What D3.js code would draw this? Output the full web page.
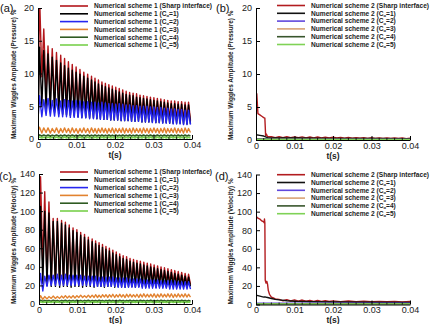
<!DOCTYPE html>
<html><head><meta charset="utf-8">
<script src="https://cdn.jsdelivr.net/npm/d3@7"></script>
<style>
html,body{margin:0;padding:0;background:#fff;}
svg{display:block;font-family:"Liberation Sans",Arial,sans-serif;}
</style></head>
<body><svg id="c" width="430" height="324"></svg>
<script>
// ---------- DATA ----------
const xTicks = [0, 0.01, 0.02, 0.03, 0.04];
const yTicksP = [0, 5, 10, 15, 20];
const yTicksV = [0, 20, 40, 60, 80, 100, 120, 140];
const legendS1 = ["Numerical scheme 1 (Sharp interface)", "Numerical scheme 1 (C|=1)", "Numerical scheme 1 (C|=2)", "Numerical scheme 1 (C|=3)", "Numerical scheme 1 (C|=4)", "Numerical scheme 1 (C|=5)"];
const legendS2 = ["Numerical scheme 2 (Sharp interface)", "Numerical scheme 2 (C|=1)", "Numerical scheme 2 (C|=2)", "Numerical scheme 2 (C|=3)", "Numerical scheme 2 (C|=4)", "Numerical scheme 2 (C|=5)"];
const colorsS1 = ["#b3161b", "#000000", "#2626f0", "#e2822f", "#2f5b22", "#78d04c"];
const colorsS2 = ["#b21c1f", "#111111", "#6048dc", "#d9a274", "#38552c", "#7fd256"];

// scheme 1 oscillation: times of the peaks and troughs of each cycle
const tPeak = [0.0004,0.0015,0.0026,0.0037,0.0048,0.0059,0.0069,0.0079,0.0089,0.0099,0.0109,0.0119,0.0129,0.0139,0.0148,0.0157,0.0166,0.0175,0.0184,0.0193,0.0202,0.0211,0.0220,0.0229,0.0238,0.0247,0.0256,0.0265,0.0274,0.0283,0.0292,0.0301,0.0310,0.0319,0.0328,0.0337,0.0346,0.0355,0.0364,0.0373,0.0382,0.0391];
const tTrough = [0.0010,0.0021,0.0032,0.0043,0.0054,0.0064,0.0074,0.0084,0.0094,0.0104,0.0114,0.0124,0.0134,0.0144,0.0153,0.0162,0.0171,0.0180,0.0189,0.0198,0.0207,0.0216,0.0225,0.0234,0.0243,0.0252,0.0261,0.0270,0.0279,0.0288,0.0297,0.0306,0.0315,0.0324,0.0333,0.0342,0.0351,0.0360,0.0369,0.0378,0.0387,0.0396];

// (a) scheme 1, pressure
const pSharpStart = 2;
const pSharpPeak = [22,16.8,14.2,13.8,13.2,12.8,12.3,11.8,11.4,11.0,10.6,10.2,9.9,9.6,9.3,9.0,8.7,8.5,8.3,8.1,7.9,7.7,7.5,7.3,7.1,7.0,6.9,6.7,6.6,6.5,6.4,6.3,6.2,6.1,6.0,5.9,5.8,5.8,5.7,5.7,5.6,5.6];
const pSharpTrough = [9.5,7.0,6.0,5.5,5.2,5.0,4.8,4.6,4.5,4.4,4.3,4.2,4.1,4.0,3.9,3.8,3.8,3.7,3.6,3.6,3.5,3.5,3.4,3.4,3.3,3.3,3.2,3.2,3.2,3.1,3.1,3.1,3.0,3.0,3.0,3.0,2.9,2.9,2.9,2.9,2.8,2.8];
const pC1Start = 1;
const pC1Peak = [14,13.5,13.0,12.5,12.0,11.6,11.2,10.8,10.5,10.2,9.9,9.6,9.3,9.0,8.7,8.4,8.2,8.0,7.8,7.6,7.4,7.2,7.0,6.8,6.7,6.6,6.4,6.3,6.2,6.1,6.0,5.9,5.8,5.7,5.6,5.5,5.4,5.4,5.3,5.3,5.2,5.2];
const pC1Trough = [5.0,4.6,4.3,4.1,3.9,3.8,3.7,3.6,3.5,3.4,3.3,3.3,3.2,3.2,3.1,3.1,3.0,3.0,2.9,2.9,2.9,2.8,2.8,2.8,2.7,2.7,2.7,2.6,2.6,2.6,2.6,2.5,2.5,2.5,2.5,2.4,2.4,2.4,2.4,2.3,2.3,2.3];
const pC2Start = 3;
const pC2Peak = [6.6,6.0,6.2,5.9,6.1,5.8,6.0,5.9,5.8,5.9,5.8,5.7,5.7,5.6,5.6,5.5,5.6,5.5,5.4,5.4,5.3,5.4,5.3,5.2,5.2,5.1,5.1,5.0,5.0,5.0,4.9,4.9,4.8,4.8,4.7,4.7,4.6,4.6,4.5,4.5,4.4,4.4];
const pC2Trough = [3.4,3.6,3.5,3.5,3.4,3.4,3.4,3.3,3.3,3.3,3.2,3.2,3.1,3.1,3.1,3.0,3.0,3.0,2.9,2.9,2.9,2.8,2.8,2.8,2.7,2.7,2.7,2.6,2.6,2.6,2.5,2.5,2.5,2.4,2.4,2.4,2.3,2.3,2.3,2.2,2.2,2.2];
const pC3Start = 1.2;
const pC3Peak = [1.8,1.7,1.7,1.6,1.7,1.6,1.7,1.6,1.7,1.6,1.6,1.7,1.6,1.7,1.6,1.6,1.7,1.6,1.6,1.7,1.6,1.6,1.7,1.6,1.6,1.7,1.6,1.6,1.7,1.6,1.6,1.7,1.6,1.6,1.7,1.6,1.6,1.7,1.6,1.6,1.7,1.6];
const pC3Trough = [0.9,1.0,0.9,1.0,0.9,1.0,1.0,0.9,1.0,0.9,1.0,1.0,0.9,1.0,0.9,1.0,1.0,0.9,1.0,0.9,1.0,1.0,0.9,1.0,0.9,1.0,1.0,0.9,1.0,0.9,1.0,1.0,0.9,1.0,0.9,1.0,1.0,0.9,1.0,0.9,1.0,1.0];
const pC4Start = 0.5;
const pC4Peak = [0.62,0.6,0.6,0.58,0.6,0.58,0.6,0.58,0.6,0.58,0.6,0.58,0.6,0.58,0.6,0.58,0.6,0.58,0.6,0.58,0.6,0.58,0.6,0.58,0.6,0.58,0.6,0.58,0.6,0.58,0.6,0.58,0.6,0.58,0.6,0.58,0.6,0.58,0.6,0.58,0.6,0.58];
const pC4Trough = [0.45,0.45,0.44,0.45,0.44,0.45,0.44,0.45,0.44,0.45,0.44,0.45,0.44,0.45,0.44,0.45,0.44,0.45,0.44,0.45,0.44,0.45,0.44,0.45,0.44,0.45,0.44,0.45,0.44,0.45,0.44,0.45,0.44,0.45,0.44,0.45,0.44,0.45,0.44,0.45,0.44,0.45];
const pC5Start = 0.2;
const pC5Peak = [0.3,0.28,0.3,0.28,0.3,0.28,0.3,0.28,0.3,0.28,0.3,0.28,0.3,0.28,0.3,0.28,0.3,0.28,0.3,0.28,0.3,0.28,0.3,0.28,0.3,0.28,0.3,0.28,0.3,0.28,0.3,0.28,0.3,0.28,0.3,0.28,0.3,0.28,0.3,0.28,0.3,0.28];
const pC5Trough = [0.15,0.16,0.15,0.16,0.15,0.16,0.15,0.16,0.15,0.16,0.15,0.16,0.15,0.16,0.15,0.16,0.15,0.16,0.15,0.16,0.15,0.16,0.15,0.16,0.15,0.16,0.15,0.16,0.15,0.16,0.15,0.16,0.15,0.16,0.15,0.16,0.15,0.16,0.15,0.16,0.15,0.16];

// (c) scheme 1, velocity
const vSharpStart = 20;
const vSharpPeak = [137,121,110,92,92,90,88,85,82,80,77,75,72,70,68,66,64,62,60,58,56,54,52,51,49,48,47,46,45,44,43,42,41,40,39,38,37,36,35,34,33,32];
const vSharpTrough = [40,24,22,22,23,22,22,23,22,22,22,23,22,22,22,22,23,22,22,22,22,22,22,22,22,22,22,22,22,22,22,22,22,22,22,22,22,22,22,21,21,21];
const vC1Start = 15;
const vC1Peak = [105,100,98,89,89,87,85,82,79,77,74,72,69,67,65,63,61,59,57,55,53,51,49,48,46,45,44,43,42,41,40,39,38,37,36,35,34,33,32,31,30,29];
const vC1Trough = [22,20,19,19,18,19,19,18,19,19,18,19,19,18,19,19,18,19,19,18,19,19,18,19,19,18,19,19,18,19,19,18,19,19,18,19,19,18,19,19,18,19];
const vC2Start = 14;
const vC2Peak = [33,30,31,31,32,31,32,31,31,31,31,30,30,30,30,29,29,29,29,29,28,28,28,28,27,27,27,27,26,26,26,26,26,25,25,25,25,25,24,24,24,24];
const vC2Trough = [14,19,20,20,20,20,20,20,20,20,20,20,20,19,19,19,19,19,19,19,18,18,18,18,18,18,18,17,17,17,17,17,17,17,17,16,16,16,16,16,16,16];
const vC3Start = 4;
const vC3Peak = [9,8,8,8.5,8,8.5,9,8.5,9,9,9.5,9,9.5,9.5,10,9.5,10,10,10,10.5,10,10.5,10,10.5,10.5,10,10.5,10.5,11,10.5,10.5,11,10.5,11,10.5,11,11,10.5,11,10.5,11,10.5];
const vC3Trough = [5,5.5,6,6,6,6.5,6.5,6.5,6.5,7,7,7,7,7,7,7,7.5,7,7.5,7,7.5,7.5,7,7.5,7.5,7.5,7,7.5,7.5,7.5,7.5,7,7.5,7.5,7.5,7.5,7,7.5,7.5,7.5,7.5,7.5];
const vC4Start = 3;
const vC4Peak = [4,3.8,3.8,4,3.8,3.8,4,3.8,3.8,4,3.8,3.8,4,3.8,3.8,4,3.8,3.8,4,3.8,3.8,4,3.8,3.8,4,3.8,3.8,4,3.8,3.8,4,3.8,3.8,4,3.8,3.8,4,3.8,3.8,4,3.8,3.8];
const vC4Trough = [3,3.1,3,3.1,3,3.1,3,3.1,3,3.1,3,3.1,3,3.1,3,3.1,3,3.1,3,3.1,3,3.1,3,3.1,3,3.1,3,3.1,3,3.1,3,3.1,3,3.1,3,3.1,3,3.1,3,3.1,3,3.1];
const vC5Start = 1.5;
const vC5Peak = [2.4,2.3,2.3,2.4,2.3,2.3,2.4,2.3,2.3,2.4,2.3,2.3,2.4,2.3,2.3,2.4,2.3,2.3,2.4,2.3,2.3,2.4,2.3,2.3,2.4,2.3,2.3,2.4,2.3,2.3,2.4,2.3,2.3,2.4,2.3,2.3,2.4,2.3,2.3,2.4,2.3,2.3];
const vC5Trough = [1.6,1.7,1.6,1.7,1.6,1.7,1.6,1.7,1.6,1.7,1.6,1.7,1.6,1.7,1.6,1.7,1.6,1.7,1.6,1.7,1.6,1.7,1.6,1.7,1.6,1.7,1.6,1.7,1.6,1.7,1.6,1.7,1.6,1.7,1.6,1.7,1.6,1.7,1.6,1.7,1.6,1.7];

// (b) scheme 2, pressure
const bSharpT = [0,0.0001,0.0002,0.0003,0.0005,0.0010,0.0015,0.0020,0.0023,0.0025,0.0027,0.0029,0.0031,0.0040,0.0050,0.0060,0.0070,0.0080,0.0090,0.0100,0.0110,0.0120,0.0130,0.0140,0.0150,0.0160,0.0170,0.0180,0.0190,0.0200,0.0210,0.0220,0.0230,0.0240,0.0250,0.0260,0.0270,0.0280,0.0290,0.0300,0.0310,0.0320,0.0330,0.0340,0.0350,0.0360,0.0370,0.0380,0.0390,0.0400];
const bSharpV = [0.6,5.5,7.0,6.0,4.0,3.8,3.6,3.4,3.3,0.7,0.9,0.6,0.5,0.5,0.35,0.5,0.35,0.5,0.35,0.48,0.34,0.47,0.33,0.46,0.33,0.45,0.32,0.44,0.32,0.43,0.3,0.4,0.28,0.38,0.27,0.36,0.26,0.35,0.25,0.34,0.24,0.33,0.23,0.32,0.22,0.3,0.22,0.3,0.21,0.28];
const bC1T = [0,0.001,0.002,0.003,0.005,0.010,0.020,0.030,0.040];
const bC1V = [0.8,0.7,0.6,0.35,0.3,0.3,0.25,0.22,0.2];
const bC2T = [0,0.04];
const bC2V = [0.15,0.1];
const bC3T = [0,0.04];
const bC3V = [0.1,0.08];
const bC4T = [0,0.04];
const bC4V = [0.08,0.06];
const bC5T = [0,0.04];
const bC5V = [0.05,0.04];

// (d) scheme 2, velocity
const dSharpT = [0,0.0005,0.0010,0.0015,0.0020,0.0021,0.0022,0.0023,0.0024,0.0026,0.0028,0.0030,0.0032,0.0035,0.0040,0.0045,0.0050,0.0060,0.0070,0.0080,0.0090,0.0100,0.0110,0.0120,0.0130,0.0140,0.0150,0.0160,0.0170,0.0180,0.0190,0.0200,0.0220,0.0240,0.0260,0.0280,0.0300,0.0320,0.0340,0.0360,0.0380,0.0400];
const dSharpV = [95,93,92,90,89,88,92,88,26,23,25,22,15,11,8,7,6,5.5,4,5.2,3.8,5,3.6,4.8,3.5,4.5,3.4,4.3,3.3,4.1,3.2,3.9,3.1,3.7,3.0,3.5,3.0,3.4,2.9,3.3,2.8,3.2];
const dC1T = [0,0.0005,0.001,0.0015,0.002,0.0025,0.003,0.004,0.005,0.006,0.008,0.010,0.015,0.020,0.030,0.040];
const dC1V = [10,9.5,9,8.5,8,8,7.5,6.5,5.5,5,4,3.5,3,2.7,2.4,2.2];
const dC2T = [0,0.04];
const dC2V = [1.5,1.5];
const dC3T = [0,0.04];
const dC3V = [0.8,0.8];
const dC4T = [0,0.04];
const dC4V = [0.5,0.5];
const dC5T = [0,0.04];
const dC5V = [0.3,0.3];

// ---------- helpers ----------
function wave(start, peaks, troughs){
  const pts = [[0, start]];
  peaks.forEach((p,i)=>{ pts.push([tPeak[i], p]); pts.push([tTrough[i], troughs[i]]); });
  return pts;
}
function zip(ts, vs){ return ts.map((t,i)=>[t, vs[i]]); }

const svg = d3.select("#c");
svg.append("rect").attr("width",430).attr("height",324).attr("fill","#fff");
const defs = svg.append("defs");

function panel(o){
  const g = svg.append("g");
  const x = d3.scaleLinear().domain([0,0.04]).range([o.x0, o.x1]);
  const y = d3.scaleLinear().domain([0,o.ymax]).range([o.y0, o.y1]);
  const cid = "clip"+o.id;
  defs.append("clipPath").attr("id",cid).append("rect")
    .attr("x",o.x0).attr("y",o.y1).attr("width",o.x1-o.x0+2).attr("height",o.y0-o.y1);
  const line = d3.line().x(d=>x(d[0])).y(d=>y(d[1]));
  const lg = g.append("g").attr("clip-path","url(#"+cid+")");
  o.series.forEach((s,i)=>{
    lg.append("path").attr("d",line(s)).attr("fill","none")
      .attr("stroke",o.colors[i]).attr("stroke-width", i>=4?1.7:1.4).attr("stroke-linejoin","round");
  });
  // axes
  const xa = d3.axisBottom(x).tickValues(xTicks).tickSizeInner(-4).tickSizeOuter(0).tickPadding(2.5)
    .tickFormat(d=> d===0 ? "0" : d3.format(".2f")(d));
  const gx = g.append("g").attr("transform","translate(0,"+o.y0+")").call(xa);
  const ya = d3.axisLeft(y).tickValues(o.yTicks).tickSizeInner(-4).tickSizeOuter(0).tickPadding(4);
  const gy = g.append("g").attr("transform","translate("+o.x0+",0)").call(ya);
  // minor x ticks
  const minors = d3.range(0.002, 0.04, 0.002).filter(v=>Math.abs(v/0.01-Math.round(v/0.01))>1e-6);
  g.append("g").selectAll("line").data(minors).join("line")
    .attr("x1",d=>x(d)).attr("x2",d=>x(d)).attr("y1",o.y0).attr("y2",o.y0-2)
    .attr("stroke","#000").attr("stroke-width",0.8);
  [gx,gy].forEach(a=>{
    a.selectAll("text").attr("font-size",9).attr("fill","#222").attr("font-family","'Liberation Sans',Arial,sans-serif");
    a.select(".domain").attr("stroke","#000").attr("stroke-width",1);
    a.selectAll(".tick line").attr("stroke","#000");
  });
  // x title
  g.append("text").attr("x",(o.x0+o.x1)/2).attr("y",o.y0+18.5).attr("text-anchor","middle")
    .attr("font-size",8.5).attr("font-weight","bold").attr("fill","#222").text("t(s)");
  // y title
  g.append("text").attr("transform","translate("+o.tx+","+o.y0+") rotate(-90)")
    .attr("font-size",6.4).attr("font-weight","bold").attr("fill","#222").text(o.ytitle);
  // panel label
  g.append("text").attr("x",o.lx).attr("y",o.ly).attr("font-size",11).attr("fill","#111").text(o.label);
  // legend
  o.legend.forEach((txt,i)=>{
    const yy = o.legY + i*7.8;
    g.append("line").attr("x1",o.legX).attr("x2",o.legX+28).attr("y1",yy).attr("y2",yy)
      .attr("stroke",o.colors[i]).attr("stroke-width",1.6);
    const t = g.append("text").attr("x",o.legX+34).attr("y",yy+2.3)
      .attr("font-size",6.6).attr("font-weight","bold").attr("fill","#222");
    const parts = txt.split("|");
    t.append("tspan").text(parts[0]);
    if(parts.length>1){
      t.append("tspan").attr("font-size",4).attr("dy",1.2).text("\u03b1");
      t.append("tspan").attr("dy",-1.2).text(parts[1]);
    }
  });
}

panel({id:"a", x0:38, x1:192, y0:139, y1:8, ymax:20, yTicks:yTicksP,
  series:[wave(pSharpStart,pSharpPeak,pSharpTrough), wave(pC1Start,pC1Peak,pC1Trough), wave(pC2Start,pC2Peak,pC2Trough),
          wave(pC3Start,pC3Peak,pC3Trough), wave(pC4Start,pC4Peak,pC4Trough), wave(pC5Start,pC5Peak,pC5Trough)],
  colors:colorsS1, legend:legendS1, legX:60, legY:6,
  ytitle:"Maximum Wiggles Amplitude (Pressure) %", tx:16, label:"(a)", lx:0, ly:12});
panel({id:"b", x0:256, x1:410, y0:140, y1:8, ymax:20, yTicks:yTicksP,
  series:[zip(bSharpT,bSharpV), zip(bC1T,bC1V), zip(bC2T,bC2V), zip(bC3T,bC3V), zip(bC4T,bC4V), zip(bC5T,bC5V)],
  colors:colorsS2, legend:legendS2, legX:277, legY:5.5,
  ytitle:"Maximum Wiggles Amplitude (Pressure) %", tx:233, label:"(b)", lx:216, ly:12});
panel({id:"c", x0:39, x1:192, y0:304, y1:174, ymax:140, yTicks:yTicksV,
  series:[wave(vSharpStart,vSharpPeak,vSharpTrough), wave(vC1Start,vC1Peak,vC1Trough), wave(vC2Start,vC2Peak,vC2Trough),
          wave(vC3Start,vC3Peak,vC3Trough), wave(vC4Start,vC4Peak,vC4Trough), wave(vC5Start,vC5Peak,vC5Trough)],
  colors:colorsS1, legend:legendS1, legX:60, legY:172,
  ytitle:"Maximum Wiggles Amplitude (Velocity) %", tx:16, label:"(c)", lx:-1, ly:180});
panel({id:"d", x0:256, x1:410, y0:304.5, y1:174.5, ymax:140, yTicks:yTicksV,
  series:[zip(dSharpT,dSharpV), zip(dC1T,dC1V), zip(dC2T,dC2V), zip(dC3T,dC3V), zip(dC4T,dC4V), zip(dC5T,dC5V)],
  colors:colorsS2, legend:legendS2, legX:277, legY:174.7,
  ytitle:"Maximum Wiggles Amplitude (Velocity) %", tx:233, label:"(d)", lx:215, ly:180});
</script></body></html>
